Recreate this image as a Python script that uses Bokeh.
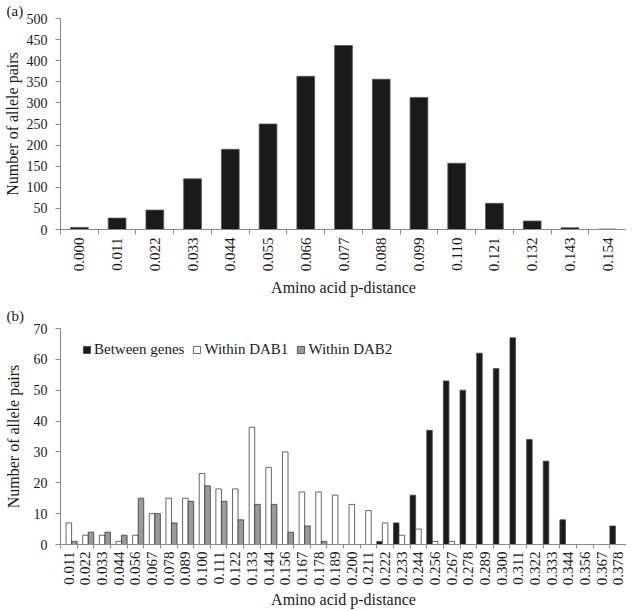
import math
from bokeh.plotting import figure
from bokeh.models import FixedTicker, Legend, LegendItem, ColumnDataSource, Range1d
from bokeh.layouts import column
from bokeh.embed import file_html
from bokeh.resources import INLINE

# ---------------- data ----------------
a_labels = ["0.000", "0.011", "0.022", "0.033", "0.044", "0.055", "0.066", "0.077",
            "0.088", "0.099", "0.110", "0.121", "0.132", "0.143", "0.154"]
a_counts = [5, 27, 46, 120, 190, 250, 363, 436, 356, 313, 157, 62, 20, 4, 1]

b_labels = ["0.011", "0.022", "0.033", "0.044", "0.056", "0.067", "0.078", "0.089",
            "0.100", "0.111", "0.122", "0.133", "0.144", "0.156", "0.167", "0.178",
            "0.189", "0.200", "0.211", "0.222", "0.233", "0.244", "0.256", "0.267",
            "0.278", "0.289", "0.300", "0.311", "0.322", "0.333", "0.344", "0.356",
            "0.367", "0.378"]
between_genes = [0, 0, 0, 0, 0, 0, 0, 0, 0, 0, 0, 0, 0, 0, 0, 0, 0, 0, 0,
                 1, 7, 16, 37, 53, 50, 62, 57, 67, 34, 27, 8, 0, 0, 6]
within_dab1 = [7, 3, 3, 1, 3, 10, 15, 15, 23, 18, 18, 38, 25, 30, 17, 17, 16, 13, 11,
               7, 3, 5, 1, 1, 0, 0, 0, 0, 0, 0, 0, 0, 0, 0]
within_dab2 = [1, 4, 4, 3, 15, 10, 7, 14, 19, 14, 8, 13, 13, 4, 6, 1, 0, 0, 0,
               0, 0, 0, 0, 0, 0, 0, 0, 0, 0, 0, 0, 0, 0, 0]

FONT = "Liberation Serif"
AXIS_COL = "#8a8a8a"
TEXT_COL = "#1a1a1a"
LEFT = 54


def style_axes(p, n, labels, ymax, ystep, panel_tag, tag_standoff,
               xlabel_standoff=4, ylab_standoff=3, xlab_standoff=7, tick_out=5):
    xa = p.xaxis[0]
    xa.ticker = FixedTicker(ticks=list(range(n)), minor_ticks=[i - 0.5 for i in range(n + 1)])
    xa.major_label_overrides = {i: lab for i, lab in enumerate(labels)}
    xa.major_label_orientation = math.pi / 2
    xa.major_tick_line_color = None
    xa.major_tick_out = 0
    xa.major_tick_in = 0
    xa.minor_tick_out = tick_out
    xa.minor_tick_in = 0
    xa.minor_tick_line_color = AXIS_COL
    xa.axis_line_color = AXIS_COL
    xa.major_label_text_font = FONT
    xa.major_label_text_font_size = "15px"
    xa.major_label_text_color = TEXT_COL
    xa.major_label_standoff = xlabel_standoff
    xa.axis_label = "Amino acid p-distance"
    xa.axis_label_text_font = FONT
    xa.axis_label_text_font_size = "16px"
    xa.axis_label_text_font_style = "normal"
    xa.axis_label_text_color = TEXT_COL
    xa.axis_label_standoff = xlab_standoff

    ya = p.yaxis[0]
    ya.ticker = FixedTicker(ticks=list(range(0, ymax + 1, ystep)))
    ya.minor_tick_line_color = None
    ya.major_tick_out = 5
    ya.major_tick_in = 0
    ya.major_tick_line_color = AXIS_COL
    ya.axis_line_color = AXIS_COL
    ya.major_label_text_font = FONT
    ya.major_label_text_font_size = "14px"
    ya.major_label_text_color = TEXT_COL
    ya.major_label_standoff = 8
    ya.axis_label = "Number of allele pairs"
    ya.axis_label_text_font = FONT
    ya.axis_label_text_font_size = "16px"
    ya.axis_label_text_font_style = "normal"
    ya.axis_label_text_color = TEXT_COL
    ya.axis_label_standoff = ylab_standoff

    p.title.text = panel_tag
    p.title.align = "left"
    p.title.offset = -LEFT
    p.title.standoff = tag_standoff
    p.title.text_font = FONT
    p.title.text_font_size = "15px"
    p.title.text_font_style = "normal"
    p.title.text_color = TEXT_COL

    p.xgrid.visible = False
    p.ygrid.visible = False
    p.outline_line_color = None


# ---------------- panel (a) ----------------
na = len(a_labels)
A_TOP, A_FRAME, A_BOTTOM = 17, 212, 70
pa = figure(width=626, height=A_TOP + A_FRAME + A_BOTTOM, output_backend="svg",
            toolbar_location=None,
            x_range=Range1d(-0.5, na - 0.5), y_range=Range1d(0, 500),
            min_border_left=LEFT, min_border_right=0, min_border_top=A_TOP,
            min_border_bottom=A_BOTTOM)
src_a = ColumnDataSource(dict(x=list(range(na)), top=a_counts))
pa.vbar(x="x", top="top", bottom=0, width=0.47, source=src_a,
        fill_color="#1a1a1a", line_color="#555555", line_width=0.8)
style_axes(pa, na, a_labels, 500, 50, "(a)", 0, xlabel_standoff=3,
           ylab_standoff=3, xlab_standoff=5, tick_out=5)

# ---------------- panel (b) ----------------
nb = len(b_labels)
B_TOP, B_FRAME, B_BOTTOM = 29, 216, 67
pb = figure(width=626, height=B_TOP + B_FRAME + B_BOTTOM, output_backend="svg",
            toolbar_location=None,
            x_range=Range1d(-0.5, nb - 0.5), y_range=Range1d(0, 70),
            min_border_left=LEFT, min_border_right=0, min_border_top=B_TOP,
            min_border_bottom=B_BOTTOM)

bw = 1.0 / 3.0
series = [
    ("Between genes", between_genes, -bw, "#1a1a1a", "#444444"),
    ("Within DAB1", within_dab1, 0.0, "#ffffff", "#404040"),
    ("Within DAB2", within_dab2, bw, "#9a9a9a", "#3a3a3a"),
]
items = []
for name, vals, off, fc, lc in series:
    xs = [i + off for i, v in enumerate(vals) if v > 0]
    ys = [v for v in vals if v > 0]
    src = ColumnDataSource(dict(x=xs, top=ys))
    r = pb.vbar(x="x", top="top", bottom=0, width=bw, source=src,
                fill_color=fc, line_color=lc, line_width=0.8)
    items.append(LegendItem(label=name, renderers=[r]))

style_axes(pb, nb, b_labels, 70, 10, "(b)", 10, xlabel_standoff=3,
           ylab_standoff=9, xlab_standoff=3, tick_out=4)

legend = Legend(items=items, orientation="horizontal",
                border_line_color=None, background_fill_alpha=0,
                label_text_font=FONT, label_text_font_size="15px", label_text_color=TEXT_COL,
                glyph_width=9, glyph_height=9, label_standoff=3, spacing=8,
                padding=0, margin=0, label_height=14)
pb.add_layout(legend)
legend.location = (22, B_FRAME - 30)

layout = column(pa, pb, spacing=0)
open("out.html", "w").write(file_html(layout, INLINE))
